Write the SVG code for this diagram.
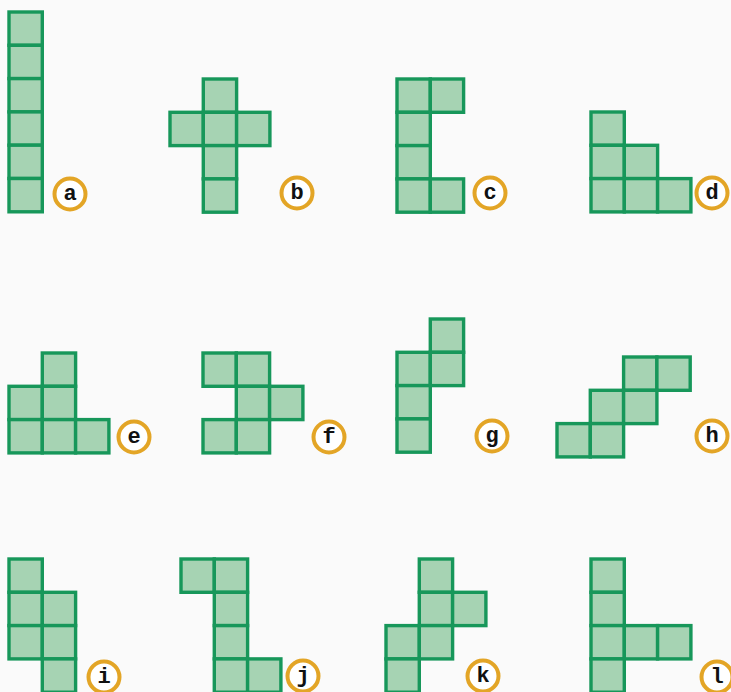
<svg xmlns="http://www.w3.org/2000/svg" xmlns:xlink="http://www.w3.org/1999/xlink" width="731" height="692" viewBox="0 0 731 692">
<style>
.cell{fill:#a6d3b3;stroke:#17975a;stroke-width:3.4}
.lab circle{fill:#ffffff;stroke:#e3a526;stroke-width:4}
.lab text{font-family:"Liberation Mono",monospace;font-weight:bold;font-size:22px;fill:#111;text-anchor:middle;dominant-baseline:central}
</style>
<defs>
<rect id="c" class="cell" x="0" y="0" width="33.3" height="33.3"/>
</defs>
<rect width="731" height="692" fill="#fafafa"/>
<g id="shape-a" transform="translate(9,12)">
<use href="#c" x="0" y="0"/><use href="#c" x="0" y="33.3"/><use href="#c" x="0" y="66.6"/><use href="#c" x="0" y="99.9"/><use href="#c" x="0" y="133.2"/><use href="#c" x="0" y="166.5"/>
<g class="lab"><circle cx="61" cy="182" r="15.5"/><text x="61" y="182">a</text></g>
</g>
<g id="shape-b" transform="translate(170,79)">
<use href="#c" x="33.3" y="0"/><use href="#c" x="0" y="33.3"/><use href="#c" x="33.3" y="33.3"/><use href="#c" x="66.6" y="33.3"/><use href="#c" x="33.3" y="66.6"/><use href="#c" x="33.3" y="99.9"/>
<g class="lab"><circle cx="127" cy="114" r="15.5"/><text x="127" y="114">b</text></g>
</g>
<g id="shape-c" transform="translate(397,79)">
<use href="#c" x="0" y="0"/><use href="#c" x="33.3" y="0"/><use href="#c" x="0" y="33.3"/><use href="#c" x="0" y="66.6"/><use href="#c" x="0" y="99.9"/><use href="#c" x="33.3" y="99.9"/>
<g class="lab"><circle cx="93" cy="114" r="15.5"/><text x="93" y="114">c</text></g>
</g>
<g id="shape-d" transform="translate(591,112)">
<use href="#c" x="0" y="0"/><use href="#c" x="0" y="33.3"/><use href="#c" x="33.3" y="33.3"/><use href="#c" x="0" y="66.6"/><use href="#c" x="33.3" y="66.6"/><use href="#c" x="66.6" y="66.6"/>
<g class="lab"><circle cx="121" cy="81" r="15.5"/><text x="121" y="81">d</text></g>
</g>
<g id="shape-e" transform="translate(9,353)">
<use href="#c" x="33.3" y="0"/><use href="#c" x="0" y="33.3"/><use href="#c" x="33.3" y="33.3"/><use href="#c" x="0" y="66.6"/><use href="#c" x="33.3" y="66.6"/><use href="#c" x="66.6" y="66.6"/>
<g class="lab"><circle cx="125" cy="84" r="15.5"/><text x="125" y="84">e</text></g>
</g>
<g id="shape-f" transform="translate(203,353)">
<use href="#c" x="0" y="0"/><use href="#c" x="33.3" y="0"/><use href="#c" x="33.3" y="33.3"/><use href="#c" x="66.6" y="33.3"/><use href="#c" x="0" y="66.6"/><use href="#c" x="33.3" y="66.6"/>
<g class="lab"><circle cx="126" cy="84" r="15.5"/><text x="126" y="84">f</text></g>
</g>
<g id="shape-g" transform="translate(397,319)">
<use href="#c" x="33.3" y="0"/><use href="#c" x="0" y="33.3"/><use href="#c" x="33.3" y="33.3"/><use href="#c" x="0" y="66.6"/><use href="#c" x="0" y="99.9"/>
<g class="lab"><circle cx="95" cy="117" r="15.5"/><text x="95" y="117">g</text></g>
</g>
<g id="shape-h" transform="translate(557,357)">
<use href="#c" x="66.6" y="0"/><use href="#c" x="99.9" y="0"/><use href="#c" x="33.3" y="33.3"/><use href="#c" x="66.6" y="33.3"/><use href="#c" x="0" y="66.6"/><use href="#c" x="33.3" y="66.6"/>
<g class="lab"><circle cx="155" cy="79" r="15.5"/><text x="155" y="79">h</text></g>
</g>
<g id="shape-i" transform="translate(9,559)">
<use href="#c" x="0" y="0"/><use href="#c" x="0" y="33.3"/><use href="#c" x="33.3" y="33.3"/><use href="#c" x="0" y="66.6"/><use href="#c" x="33.3" y="66.6"/><use href="#c" x="33.3" y="99.9"/>
<g class="lab"><circle cx="95" cy="118" r="15.5"/><text x="95" y="118">i</text></g>
</g>
<g id="shape-j" transform="translate(181,559)">
<use href="#c" x="0" y="0"/><use href="#c" x="33.3" y="0"/><use href="#c" x="33.3" y="33.3"/><use href="#c" x="33.3" y="66.6"/><use href="#c" x="33.3" y="99.9"/><use href="#c" x="66.6" y="99.9"/>
<g class="lab"><circle cx="122" cy="117" r="15.5"/><text x="122" y="117">j</text></g>
</g>
<g id="shape-k" transform="translate(386,559)">
<use href="#c" x="33.3" y="0"/><use href="#c" x="33.3" y="33.3"/><use href="#c" x="66.6" y="33.3"/><use href="#c" x="0" y="66.6"/><use href="#c" x="33.3" y="66.6"/><use href="#c" x="0" y="99.9"/>
<g class="lab"><circle cx="97" cy="117" r="15.5"/><text x="97" y="117">k</text></g>
</g>
<g id="shape-l" transform="translate(591,559)">
<use href="#c" x="0" y="0"/><use href="#c" x="0" y="33.3"/><use href="#c" x="0" y="66.6"/><use href="#c" x="33.3" y="66.6"/><use href="#c" x="66.6" y="66.6"/><use href="#c" x="0" y="99.9"/>
<g class="lab"><circle cx="126" cy="118" r="15.5"/><text x="126" y="118">l</text></g>
</g>
</svg>
